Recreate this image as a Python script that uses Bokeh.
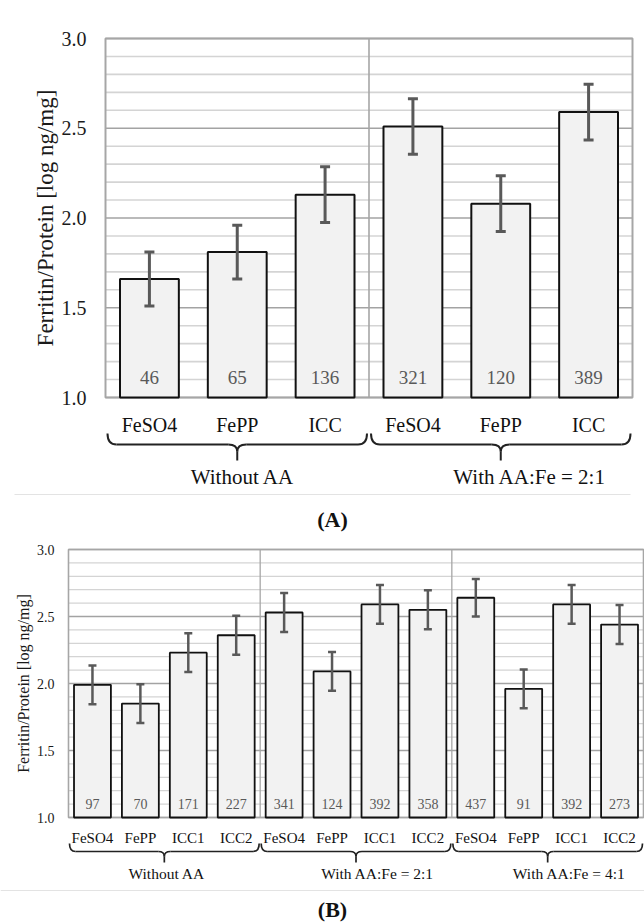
import numpy as np
from bokeh.plotting import figure
from bokeh.layouts import column
from bokeh.models import Range1d, ColumnDataSource, Whisker, TeeHead
from bokeh.embed import file_html
from bokeh.resources import INLINE
from bokeh.core.properties import value

FONT = "Liberation Serif"

# ---------------- data ----------------
a_labels = ["FeSO4", "FePP", "ICC", "FeSO4", "FePP", "ICC"]
a_means = [1.66, 1.81, 2.13, 2.51, 2.08, 2.59]
a_err = [0.15, 0.15, 0.155, 0.155, 0.155, 0.155]
a_counts = ["46", "65", "136", "321", "120", "389"]
a_groups = ["Without AA", "With AA:Fe = 2:1"]

b_labels = ["FeSO4", "FePP", "ICC1", "ICC2",
            "FeSO4", "FePP", "ICC1", "ICC2",
            "FeSO4", "FePP", "ICC1", "ICC2"]
b_means = [1.99, 1.85, 2.23, 2.36, 2.53, 2.09, 2.59, 2.55, 2.64, 1.96, 2.59, 2.44]
b_err = [0.145, 0.145, 0.145, 0.145, 0.145, 0.145, 0.145, 0.145, 0.14, 0.145, 0.145, 0.145]
b_counts = ["97", "70", "171", "227", "341", "124", "392", "358", "437", "91", "392", "273"]
b_groups = ["Without AA", "With AA:Fe = 2:1", "With AA:Fe = 4:1"]

y_major = [1.0, 1.5, 2.0, 2.5, 3.0]
y_major_labels = ["1.0", "1.5", "2.0", "2.5", "3.0"]
y_minor = [1.1, 1.2, 1.3, 1.4, 1.6, 1.7, 1.8, 1.9, 2.1, 2.2, 2.3, 2.4, 2.6, 2.7, 2.8, 2.9]
y_lo, y_hi = 1.0, 3.0
y_title = "Ferritin/Protein [log ng/mg]"

W = 644


def make_panel(labels, means, errs, counts, groups, gsize, caption, c):
    n = len(labels)
    H = c["H"]
    sx = (c["right"] - c["left"]) / n            # px per category
    sy = (c["bottom"] - c["top"]) / (y_hi - y_lo)  # px per unit
    X = lambda px: (px - c["left"]) / sx
    Y = lambda py: y_lo + (c["bottom"] - py) / sy

    p = figure(width=W, height=H, x_range=Range1d(X(0), X(W)), y_range=Range1d(Y(H), Y(0)),
               x_axis_location=None, y_axis_location=None, output_backend="svg",
               toolbar_location=None, min_border=0)
    p.outline_line_color = None
    p.grid.visible = False

    # grid lines inside plot area
    p.segment(x0=[0] * len(y_minor), x1=[n] * len(y_minor), y0=y_minor, y1=y_minor,
              line_color="#d4d4d4", line_width=c["glw"])
    p.segment(x0=[0] * len(y_major), x1=[n] * len(y_major), y0=y_major, y1=y_major,
              line_color="#a3a3a3", line_width=c["glw"])
    seps = [g * gsize for g in range(1, n // gsize)]
    p.segment(x0=seps, x1=seps, y0=[y_lo] * len(seps), y1=[y_hi] * len(seps),
              line_color="#a6a6a6", line_width=c["glw"])
    p.quad(left=[0], right=[n], bottom=[y_lo], top=[y_hi], fill_color=None,
           line_color="#a6a6a6", line_width=c["olw"])

    xs = np.arange(n) + 0.5
    src = ColumnDataSource(dict(x=xs, top=means, lower=np.array(means) - np.array(errs),
                                upper=np.array(means) + np.array(errs), cnt=counts))
    p.vbar(x="x", top="top", bottom=y_lo, width=c["barw"], source=src,
           fill_color="#f2f2f2", line_color="#111111", line_width=c["barlw"])
    p.add_layout(Whisker(source=src, base="x", lower="lower", upper="upper",
                         line_color="#595959", line_width=c["errlw"], level="overlay",
                         upper_head=TeeHead(size=c["tee"], line_color="#595959", line_width=c["errlw"]),
                         lower_head=TeeHead(size=c["tee"], line_color="#595959", line_width=c["errlw"])))
    p.text(x="x", y=Y(c["cnty"]), text="cnt", source=src, text_align="center",
           text_baseline="middle", text_font=value(FONT), text_font_size=c["cntfs"],
           text_color="#595959")

    # y tick labels and y title
    p.text(x=[X(c["tickx"])] * len(y_major), y=y_major, text=y_major_labels,
           text_align="right", text_baseline="middle", text_font=value(FONT),
           text_font_size=c["tickfs"], text_color="#1a1a1a")
    p.text(x=[X(c["ytitx"])], y=[(y_lo + y_hi) / 2], text=[y_title], angle=np.pi / 2,
           text_align="center", text_baseline="middle", text_font=value(FONT),
           text_font_size=c["ytitfs"], text_color="#1a1a1a")

    # category labels
    p.text(x=xs, y=[Y(c["caty"])] * n, text=labels, text_align="center",
           text_baseline="middle", text_font=value(FONT), text_font_size=c["catfs"],
           text_color="#111111")

    # braces
    rx = c["rx"] / sx
    pad = c["pad"] / sx
    yt, ym, yp, yr = Y(c["yt"]), Y(c["ym"]), Y(c["yp"]), Y(c["ym"] + c["ry"])
    qx0, qy0, qx1, qy1, qcx, qcy = [], [], [], [], [], []
    sx0, sy0, sx1, sy1 = [], [], [], []

    def quad(a, b, cx_, cy_, d, e):
        qx0.append(a); qy0.append(b); qcx.append(cx_); qcy.append(cy_); qx1.append(d); qy1.append(e)

    def seg(a, b, d, e):
        sx0.append(a); sy0.append(b); sx1.append(d); sy1.append(e)

    for g in range(len(groups)):
        a = g * gsize + pad
        b = (g + 1) * gsize - pad
        m = (g + 0.5) * gsize
        quad(a, yt, a, ym, a + rx, ym)
        seg(a + rx, ym, m - rx, ym)
        quad(m - rx, ym, m, ym, m, yr)
        quad(m + rx, ym, m, ym, m, yr)
        seg(m, yr, m, yp)
        seg(m + rx, ym, b - rx, ym)
        quad(b - rx, ym, b, ym, b, yt)
    p.quadratic(x0=qx0, y0=qy0, x1=qx1, y1=qy1, cx=qcx, cy=qcy,
                line_color="#222222", line_width=c["blw"])
    p.segment(x0=sx0, y0=sy0, x1=sx1, y1=sy1, line_color="#222222", line_width=c["blw"])

    gx = [(g + 0.5) * gsize + c["goff"][g] for g in range(len(groups))]
    p.text(x=gx, y=[Y(c["gy"])] * len(groups), text=groups, text_align="center",
           text_baseline="middle", text_font=value(FONT), text_font_size=c["gfs"],
           text_color="#111111")

    # separator line and caption
    p.segment(x0=[X(c["sep0"])], y0=[Y(c["sepy"])], x1=[X(c["sep1"])], y1=[Y(c["sepy"])],
              line_color="#e3e3e3", line_width=1.2)
    p.text(x=[X(c["capx"])], y=[Y(c["capy"])], text=[caption],
           text_align="center", text_baseline="middle", text_font=value(FONT),
           text_font_size=c["capfs"], text_font_style="bold", text_color="#111111")
    return p


cA = dict(H=532, left=105, right=632, top=38, bottom=397, glw=1.6, olw=2,
          barw=0.67, barlw=2, errlw=3, tee=10, cnty=377, cntfs="19px",
          tickx=86, tickfs="20px", ytitx=45, ytitfs="23px", caty=424, catfs="20px",
          rx=9, pad=2, yt=433, ym=444, yp=460, ry=7, blw=2,
          goff=[0.06, 0.33], gy=476, gfs="21px",
          sep0=14, sep1=630, sepy=494, capx=332, capy=519, capfs="22px")

cB = dict(H=390, left=68, right=643, top=17, bottom=285, glw=1.3, olw=1.6,
          barw=0.77, barlw=1.8, errlw=2.5, tee=8, cnty=271, cntfs="14px",
          tickx=54, tickfs="14px", ytitx=23, ytitfs="16px", caty=305.5, catfs="15px",
          rx=6, pad=1, yt=311, ym=319, yp=330, ry=5, blw=1.7,
          goff=[0.05, 0.45, 0.45], gy=341, gfs="15.5px",
          sep0=0, sep1=644, sepy=358, capx=332, capy=377, capfs="22px")

pA = make_panel(a_labels, a_means, a_err, a_counts, a_groups, 3, "(A)", cA)
pB = make_panel(b_labels, b_means, b_err, b_counts, b_groups, 4, "(B)", cB)

layout = column(pA, pB, spacing=0)
open("out.html", "w").write(file_html(layout, INLINE))
